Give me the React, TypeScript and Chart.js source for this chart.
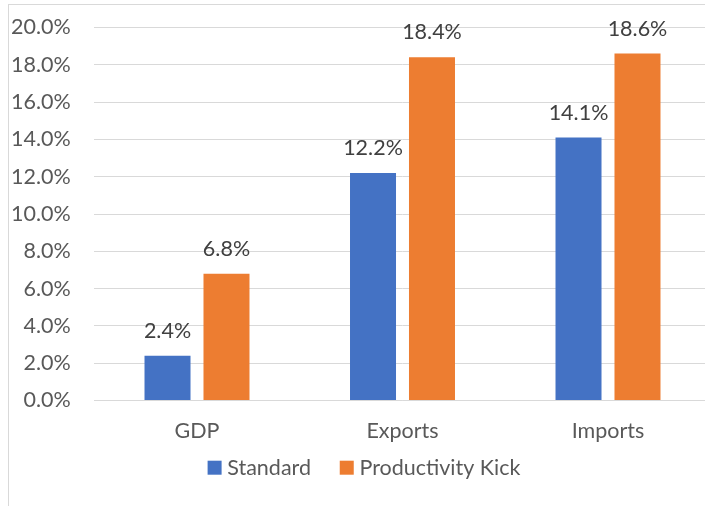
import React, { useEffect, useRef } from 'react';
import { Chart, registerables } from 'chart.js';

Chart.register(...registerables);

const categories = ['GDP', 'Exports', 'Imports'];
const seriesNames = ['Standard', 'Productivity Kick'];
const standardValues = [2.4, 12.2, 14.1];
const productivityKickValues = [6.8, 18.4, 18.6];
const seriesColors = ['#4472C4', '#ED7D31'];
const yMin = 0;
const yMax = 20;
const yStep = 2;

const FONT = 'Lato, "Open Sans", sans-serif';
const FONT_SIZE = 21.5;

export default function App() {
  const ref = useRef<HTMLCanvasElement>(null);

  useEffect(() => {
    const canvas = ref.current;
    if (!canvas) return;

    const dataLabels = {
      id: 'dataLabels',
      afterDatasetsDraw(chart: any) {
        const ctx = chart.ctx;
        ctx.save();
        ctx.font = `${FONT_SIZE}px ${FONT}`;
        ctx.fillStyle = '#404040';
        ctx.textAlign = 'center';
        ctx.textBaseline = 'alphabetic';
        chart.data.datasets.forEach((ds: any, i: number) => {
          chart.getDatasetMeta(i).data.forEach((el: any, j: number) => {
            const v = Number(ds.data[j]);
            ctx.fillText(v.toFixed(1) + '%', el.x, el.y - 18);
          });
        });
        ctx.restore();
      },
    };

    const customLegend = {
      id: 'customLegend',
      afterDraw(chart: any) {
        const ctx = chart.ctx;
        ctx.save();
        ctx.font = `${FONT_SIZE}px ${FONT}`;
        const box = 14;
        const textGap = 5.7;
        const itemGap = 28.7;
        const items = chart.data.datasets.map((ds: any) => ({
          label: ds.label,
          color: ds.backgroundColor,
          w: ctx.measureText(ds.label).width,
        }));
        const total =
          items.reduce((s: number, it: any) => s + box + textGap + it.w, 0) +
          itemGap * (items.length - 1);
        let x = chart.width / 2 - total / 2;
        const cy = 467.7;
        items.forEach((it: any) => {
          ctx.fillStyle = it.color;
          ctx.fillRect(x, cy - box / 2, box, box);
          x += box + textGap;
          ctx.fillStyle = '#595959';
          ctx.textAlign = 'left';
          ctx.textBaseline = 'middle';
          ctx.fillText(it.label, x, cy);
          x += it.w + itemGap;
        });
        ctx.restore();
      },
    };

    const chart = new Chart(canvas, {
      type: 'bar',
      data: {
        labels: categories,
        datasets: [
          {
            label: seriesNames[0],
            data: standardValues,
            backgroundColor: seriesColors[0],
            barPercentage: 0.78,
            categoryPercentage: 0.574,
          },
          {
            label: seriesNames[1],
            data: productivityKickValues,
            backgroundColor: seriesColors[1],
            barPercentage: 0.78,
            categoryPercentage: 0.574,
          },
        ],
      },
      options: {
        responsive: false,
        animation: false,
        devicePixelRatio: 1,
        layout: {
          padding: { left: 0, right: 9.25, top: 27.5, bottom: 45.5 },
        },
        plugins: {
          legend: { display: false },
          tooltip: { enabled: false },
        },
        scales: {
          x: {
            grid: { display: false, drawTicks: false },
            border: { display: true, color: '#d9d9d9', width: 1 },
            ticks: {
              color: '#595959',
              font: { family: FONT, size: FONT_SIZE },
              padding: 18,
              maxRotation: 0,
            },
            afterFit(scale: any) {
              scale.height = 60;
              scale.paddingLeft = 0;
              scale.paddingRight = 0;
            },
          },
          y: {
            min: yMin,
            max: yMax,
            grid: { color: '#d9d9d9', lineWidth: 1, drawTicks: false },
            border: { display: false },
            ticks: {
              stepSize: yStep,
              color: '#595959',
              font: { family: FONT, size: FONT_SIZE },
              padding: 23.5,
              callback: (v: any) => Number(v).toFixed(1) + '%',
            },
            afterFit(scale: any) {
              scale.width = 86.25;
              scale.paddingTop = 0;
              scale.paddingBottom = 0;
            },
          },
        },
      },
      plugins: [dataLabels, customLegend],
    });

    return () => chart.destroy();
  }, []);

  return (
    <div
      style={{
        position: 'fixed',
        left: 0,
        top: 0,
        width: 705,
        height: 506,
        overflow: 'hidden',
        background: '#ffffff',
      }}
    >
      <div
        style={{
          position: 'absolute',
          left: 8,
          top: 4,
          width: 800,
          height: 600,
          border: '1px solid #d9d9d9',
        }}
      />
      <canvas
        ref={ref}
        width={712}
        height={506}
        style={{ position: 'absolute', left: 8, top: 0, width: 712, height: 506 }}
      />
    </div>
  );
}
